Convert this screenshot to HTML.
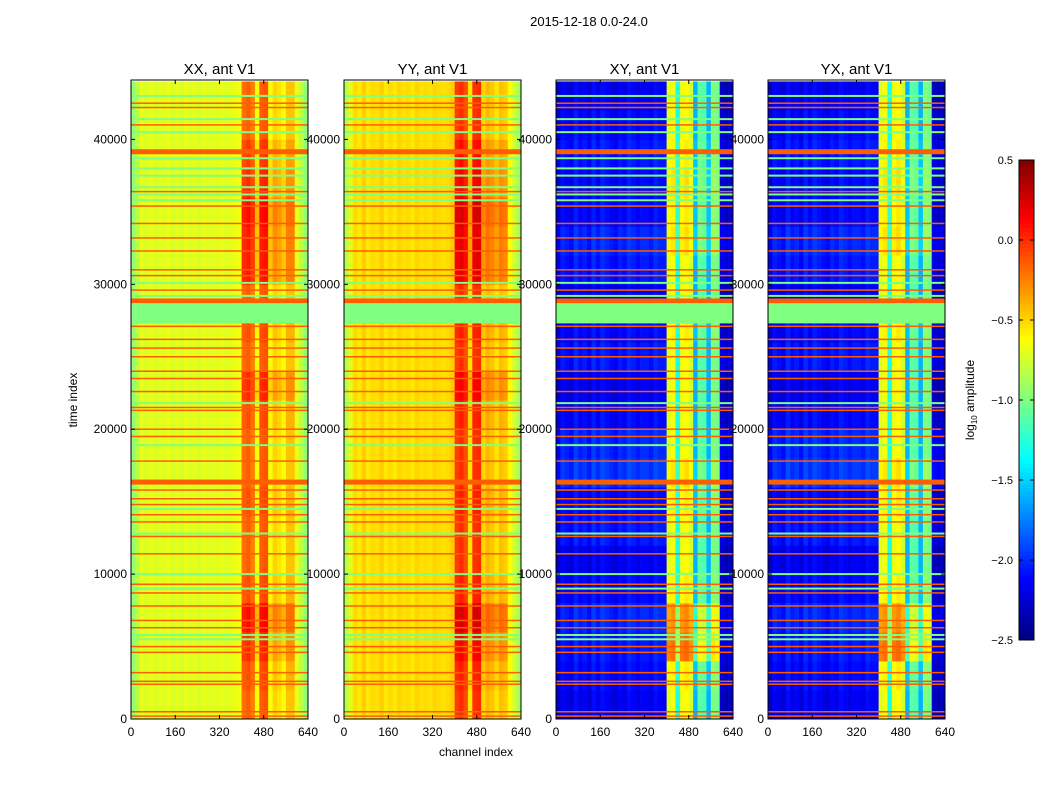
<!DOCTYPE html>
<html><head><meta charset="utf-8">
<style>
body{margin:0;background:#fff;font-family:"Liberation Sans",sans-serif;}
svg text{font-family:"Liberation Sans",sans-serif;}
</style></head>
<body>
<svg id="fig" width="1050" height="800" xmlns="http://www.w3.org/2000/svg">
<rect width="1050" height="800" fill="#fff"/>
<text x="589" y="26" font-size="13" text-anchor="middle">2015-12-18 0.0-24.0</text>
<text x="77" y="400" font-size="12" text-anchor="middle" transform="rotate(-90 77 400)">time index</text>
<text x="476" y="756" font-size="12" text-anchor="middle">channel index</text>
<g id="panels"></g>
<g id="cbar"></g>
</svg>
<script>
const panelTitles = ["XX, ant V1","YY, ant V1","XY, ant V1","YX, ant V1"];
const xTicks = [0,160,320,480,640];
const yTicks = [0,10000,20000,30000,40000];
const cbarTicks = [0.5,0.0,-0.5,-1.0,-1.5,-2.0,-2.5];
const cbarTickLabels = ["0.5","0.0","\u22120.5","\u22121.0","\u22121.5","\u22122.0","\u22122.5"];
// channel profiles per 16-channel segment (log10 amplitude)
const profXX = [-0.95,-0.82,-0.7,-0.74,-0.68,-0.74,-0.7,-0.72,-0.68,-0.74,-0.7,-0.74,-0.69,-0.72,-0.7,-0.74,-0.69,-0.72,-0.7,-0.72,-0.69,-0.72,-0.7,-0.68,-0.66,-0.2,-0.15,-0.25,-0.65,-0.15,-0.12,-0.65,-0.5,-0.55,-0.65,-0.45,-0.45,-0.7,-0.82,-0.95];
const profYY = [-0.85,-0.7,-0.52,-0.56,-0.48,-0.56,-0.52,-0.54,-0.48,-0.56,-0.52,-0.56,-0.5,-0.54,-0.52,-0.56,-0.5,-0.54,-0.52,-0.54,-0.5,-0.52,-0.54,-0.52,-0.48,-0.05,0.0,-0.1,-0.55,-0.02,0.0,-0.5,-0.42,-0.46,-0.55,-0.44,-0.48,-0.62,-0.75,-0.9];
const profXY = [-2.35,-2.2,-2.25,-2.3,-2.15,-2.25,-2.2,-2.3,-2.15,-2.25,-2.15,-2.2,-2.25,-2.3,-2.2,-2.25,-2.15,-2.2,-2.25,-2.2,-2.2,-2.25,-2.15,-2.2,-2.2,-0.7,-0.65,-1.3,-0.68,-0.62,-0.75,-1.6,-1.1,-1.15,-1.6,-1.0,-1.05,-2.35,-2.4,-2.35];
const profYX = [-2.35,-2.2,-2.25,-2.3,-2.15,-2.25,-2.2,-2.3,-2.15,-2.25,-2.15,-2.2,-2.25,-2.3,-2.2,-2.25,-2.15,-2.2,-2.25,-2.2,-2.2,-2.25,-2.15,-2.2,-2.2,-0.7,-0.65,-1.3,-0.68,-0.62,-0.75,-1.6,-1.1,-1.15,-1.6,-1.0,-1.05,-2.35,-2.4,-2.35];
// time-block offsets applied to the bright band columns (2000-sample blocks)
const offAuto = [0.0,0.05,0.15,0.25,0.05,0,0,0.05,0,0,0.05,0.15,0,0.05,0,0.2,0.2,0.25,0.15,0.1,0,0];
const offCross = [0.0,0.05,0.45,0.35,0.05,0,0,0.05,0.1,0,0.0,0,0,0.05,0.0,0,0.1,0.05,0.1,0.05,0,0];
// background brightness per time block for cross pols
const bgCross = [0.05,0.1,0.15,0.2,0.1,0.05,0.15,0.1,0.25,0.2,0.1,0.05,0.15,0.1,0.05,0.15,0.2,0.1,0.1,0.15,0.1,0.05];
// flagged rows
const redRows = [42500,42200,41000,36400,35400,34200,33200,32300,31000,30600,29600,27100,26200,25600,25000,24000,23500,22600,21500,21300,20000,19500,17800,15800,15200,14800,14100,13600,12600,11400,9300,8700,7800,6800,6300,5000,4600,3200,2600,2400,500,200];
const thickRedRows = [39150,28850,16350];
const greenRows = [43000,41400,40500,38700,38000,37500,36700,36200,35800,30100,29200,21800,18900,14500,12800,10000,9000,5800,5500];
const greenBlock = [27300,28700];

const vmin=-2.5, vmax=0.5, tMax=44100;
const panelsX=[131,344,556,768], pw=177, py0=80, py1=719;
function jet(v){let t=(v-vmin)/(vmax-vmin);t=Math.max(0,Math.min(1,t));
 const f=x=>Math.max(0,Math.min(1,x));
 const r=f(1.5-Math.abs(4*t-3)),g=f(1.5-Math.abs(4*t-2)),b=f(1.5-Math.abs(4*t-1));
 return `rgb(${Math.round(r*255)},${Math.round(g*255)},${Math.round(b*255)})`;}
const NS="http://www.w3.org/2000/svg";
function el(tag,attrs,parent){const e=document.createElementNS(NS,tag);for(const k in attrs)e.setAttribute(k,attrs[k]);parent.appendChild(e);return e;}
const profiles=[profXX,profYY,profXY,profYX];
const offs=[offAuto,offAuto,offCross,offCross];
const root=document.getElementById('panels');
panelsX.forEach((x0,p)=>{
 const xs=c=>x0+c/640*pw, ys=t=>py1-t/tMax*(py1-py0);
 const g=el('g',{},root);
 
 
 const prof=profiles[p], off=offs[p];
 off.forEach((o,b)=>{
  const t0=b*2000,t1=Math.min(tMax,(b+1)*2000);
  prof.forEach((v,s)=>{
   const inBand=(s>=25&&s<=36);
   const boost=inBand?o:(p>=2?bgCross[b]:0);
   const r=el('rect',{x:xs(s*16),y:ys(t1),width:xs((s+1)*16)-xs(s*16)+0.3,height:ys(t0)-ys(t1)+0.3,fill:jet(v+boost)},g);
   
   
  });
 });
 greenRows.forEach(t=>{const r=el('rect',{x:x0,y:ys(t)-1,width:pw,height:2,fill:jet(-1.0)},g);
  });
 redRows.forEach(t=>{const r=el('rect',{x:x0,y:ys(t)-0.75,width:pw,height:1.5,fill:jet(-0.15)},g);
  });
 thickRedRows.forEach(t=>{const r=el('rect',{x:x0,y:ys(t)-2.5,width:pw,height:5,fill:jet(-0.15)},g);
  });
 const gb=el('rect',{x:x0,y:ys(greenBlock[1]),width:pw,height:ys(greenBlock[0])-ys(greenBlock[1]),fill:jet(-1.0)},g);
 
 const fr=el('rect',{x:x0,y:py0,width:pw,height:py1-py0,fill:'none',stroke:'#000','stroke-width':1},g);
 
 const tt=el('text',{x:x0+pw/2,y:74,'font-size':15,'text-anchor':'middle'},g);tt.textContent=panelTitles[p];
 
 xTicks.forEach(v=>{const x=xs(v);
  el('line',{x1:x,x2:x,y1:py1,y2:py1-4,stroke:'#000'},g);el('line',{x1:x,x2:x,y1:py0,y2:py0+4,stroke:'#000'},g);
  const t=el('text',{x:x,y:py1+17,'font-size':12,'text-anchor':'middle'},g);t.textContent=v;
  });
 yTicks.forEach(v=>{const y=ys(v);
  el('line',{x1:x0,x2:x0+4,y1:y,y2:y,stroke:'#000'},g);el('line',{x1:x0+pw,x2:x0+pw-4,y1:y,y2:y,stroke:'#000'},g);
  const t=el('text',{x:x0-4,y:y+4,'font-size':12,'text-anchor':'end'},g);t.textContent=v;
  });
});
// colorbar
const cb=document.getElementById('cbar');const cx=1019,cw=15,cy0=160,cy1=640;
const cys=v=>cy0+(vmax-v)/(vmax-vmin)*(cy1-cy0);
for(let i=0;i<120;i++){const v0=vmax-i*(vmax-vmin)/120,v1=vmax-(i+1)*(vmax-vmin)/120;
 const r=el('rect',{x:cx,y:cys(v0),width:cw,height:cys(v1)-cys(v0)+0.5,fill:jet((v0+v1)/2)},cb);
 }
el('rect',{x:cx,y:cy0,width:cw,height:cy1-cy0,fill:'none',stroke:'#000'},cb);
cbarTicks.forEach((v,i)=>{const y=cys(v);
 el('line',{x1:cx,x2:cx+4,y1:y,y2:y,stroke:'#000'},cb);el('line',{x1:cx+cw,x2:cx+cw-4,y1:y,y2:y,stroke:'#000'},cb);
 const t=el('text',{x:cx-6,y:y+4,'font-size':11,'text-anchor':'end'},cb);t.textContent=cbarTickLabels[i];
 });
const cl=el('text',{x:974,y:400,'font-size':12,'text-anchor':'middle',transform:'rotate(-90 974 400)'},cb);
cl.innerHTML='log<tspan font-size="8" dy="3">10</tspan><tspan dy="-3"> amplitude</tspan>';

</script>
</body></html>
